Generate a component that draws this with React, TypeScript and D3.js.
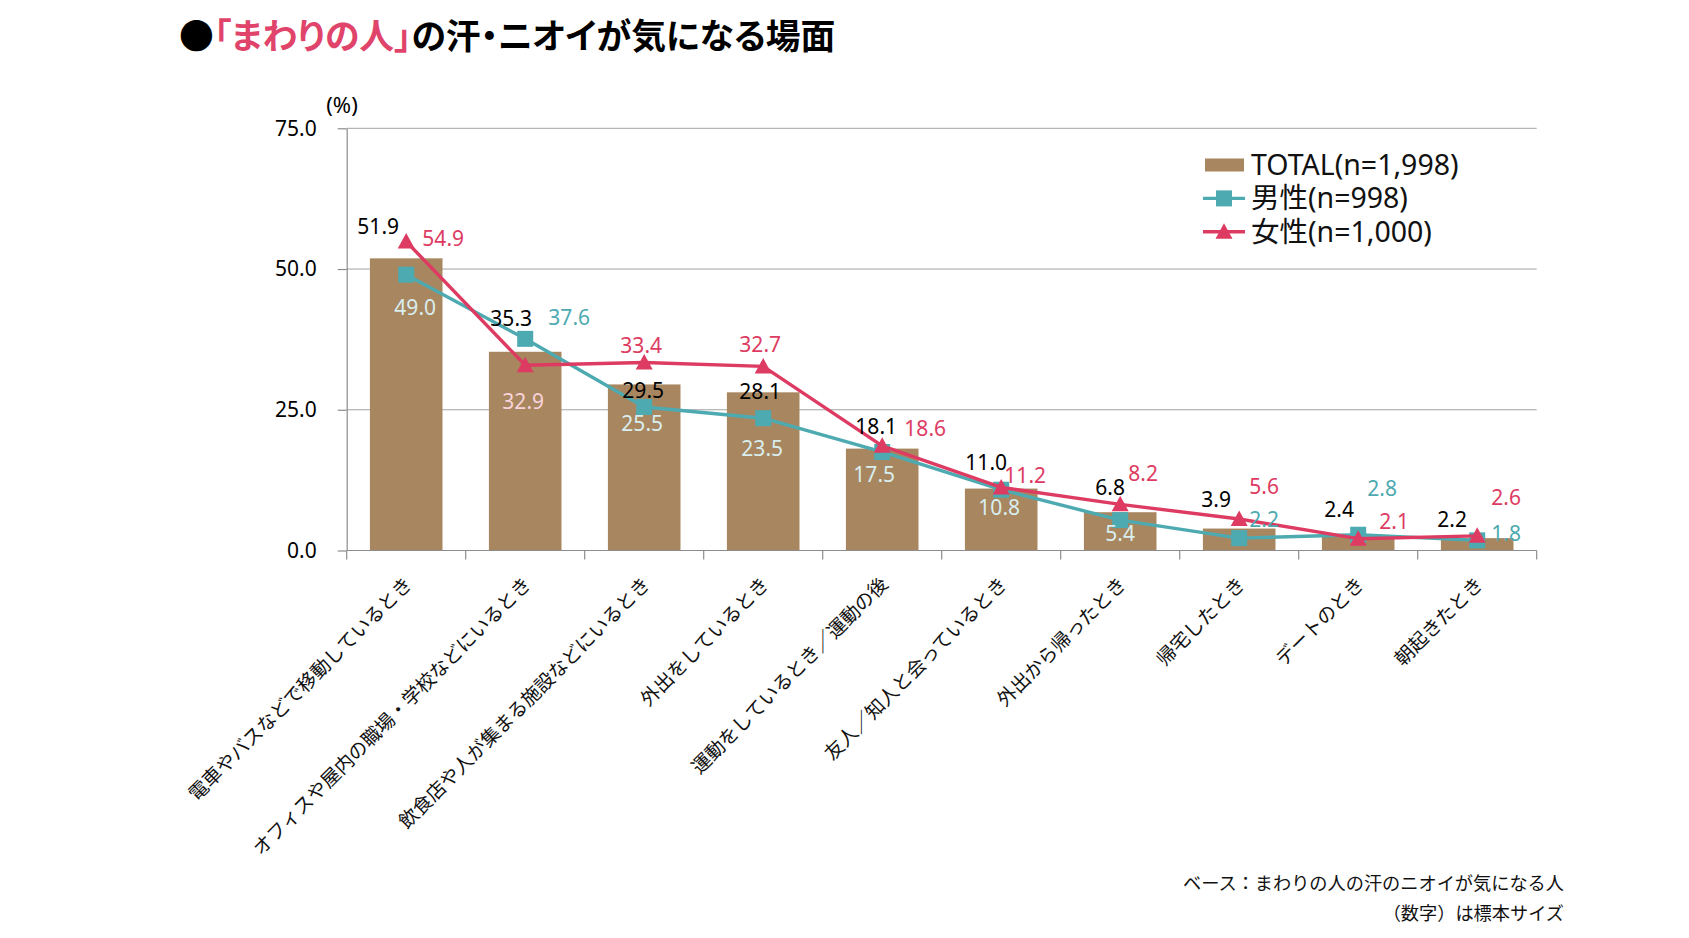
import React, { useRef, useEffect } from "react";
import * as d3 from "d3";

const categories = [
  "電車やバスなどで移動しているとき",
  "オフィスや屋内の職場・学校などにいるとき",
  "飲食店や人が集まる施設などにいるとき",
  "外出をしているとき",
  "運動をしているとき／運動の後",
  "友人／知人と会っているとき",
  "外出から帰ったとき",
  "帰宅したとき",
  "デートのとき",
  "朝起きたとき",
];
const totalValues = [51.9, 35.3, 29.5, 28.1, 18.1, 11.0, 6.8, 3.9, 2.4, 2.2];
const maleValues = [49.0, 37.6, 25.5, 23.5, 17.5, 10.8, 5.4, 2.2, 2.8, 1.8];
const femaleValues = [54.9, 32.9, 33.4, 32.7, 18.6, 11.2, 8.2, 5.6, 2.1, 2.6];
const yTicks = [0, 25, 50, 75];
const legendLabels = ["TOTAL(n=1,998)", "男性(n=998)", "女性(n=1,000)"];

// nudges [dx, dy] for the value labels, relative to the point / bar top
const totalNudge = [[-28, -32], [-14, -33], [-1, 6], [-3, -1], [-6, -22], [-15, -26], [-10, -25], [-23, -29], [-19, -27], [-25, -18]];
const maleNudge = [[9, 33], [44, -21], [-2, 17], [-1, 30], [-8, 23], [-2, 18], [0, 14], [25, -18], [24, -46], [29, -7]];
const femaleNudge = [[37, -3], [-2, 36], [-3, -17], [-3, -22], [43, -17], [24, -12], [23, -31], [25, -32], [36, -17], [29, -38]];

const BAR = "#a8865f";
const TEAL = "#4eaab1";
const RED = "#dd3b62";
const TEAL_LIGHT = "#d9eeee";
const RED_LIGHT = "#f8d3db";
const FONT = "'Noto Sans', 'Noto Sans CJK JP', sans-serif";
const JP = "'Noto Sans CJK JP', sans-serif";

const App: React.FC = () => {
  const ref = useRef<SVGSVGElement>(null);

  useEffect(() => {
    if (!ref.current) return;
    const svg = d3.select(ref.current);
    svg.selectAll("*").remove();

    const x = d3
      .scaleBand<string>()
      .domain(categories)
      .range([346.7, 1536.7])
      .paddingInner(0.39)
      .paddingOuter(0.195);
    const y = d3.scaleLinear().domain([0, 75]).range([550.5, 128.3]);
    const [x0, x1] = x.range();
    const cx = (i: number) => (x(categories[i]) ?? 0) + x.bandwidth() / 2;

    // title
    const title = svg
      .append("text")
      .attr("x", 179)
      .attr("y", 49)
      .attr("font-family", JP)
      .attr("font-weight", 700)
      .attr("font-size", 34.8)
      .style("font-feature-settings", "'palt'");
    title.append("tspan").attr("fill", "#000").text("●");
    title.append("tspan").attr("fill", "#e0446a").text("「まわりの人」");
    title.append("tspan").attr("fill", "#000").text("の汗・ニオイが気になる場面");

    // gridlines
    svg
      .append("g")
      .selectAll("line")
      .data(yTicks.filter((t) => t > 0))
      .join("line")
      .attr("x1", x0)
      .attr("x2", x1)
      .attr("y1", (d) => y(d))
      .attr("y2", (d) => y(d))
      .attr("stroke", "#a3a3a3")
      .attr("stroke-width", 1);

    // y axis
    const yAxis = svg
      .append("g")
      .attr("transform", `translate(${x0},0)`)
      .call(
        d3
          .axisLeft(y)
          .tickValues(yTicks)
          .tickSize(9)
          .tickSizeOuter(0)
          .tickPadding(21)
          .tickFormat(d3.format(".1f"))
      );
    yAxis.select(".domain").attr("stroke", "#8c8c8c").attr("stroke-width", 1.2);
    yAxis.selectAll(".tick line").attr("stroke", "#8c8c8c").attr("stroke-width", 1.2);
    yAxis
      .selectAll(".tick text")
      .attr("font-family", FONT)
      .attr("font-size", 21)
      .attr("fill", "#000");

    svg
      .append("text")
      .attr("x", 342)
      .attr("y", 105)
      .attr("dy", "0.35em")
      .attr("text-anchor", "middle")
      .attr("font-family", FONT)
      .attr("font-size", 22)
      .text("(%)");

    // bars
    svg
      .append("g")
      .selectAll("rect")
      .data(totalValues)
      .join("rect")
      .attr("x", (_, i) => x(categories[i]) ?? 0)
      .attr("y", (d) => y(d))
      .attr("width", x.bandwidth())
      .attr("height", (d) => y(0) - y(d))
      .attr("fill", BAR);

    // x axis with ticks on the band edges
    const gap = x.step() - x.bandwidth();
    const edges = categories.map((c) => (x(c) ?? 0) - gap / 2).concat([x1]);
    const xAxis = svg.append("g").attr("stroke", "#8c8c8c").attr("stroke-width", 1.2);
    xAxis.append("line").attr("x1", x0).attr("x2", x1).attr("y1", y(0)).attr("y2", y(0));
    xAxis
      .selectAll("line.tick")
      .data(edges)
      .join("line")
      .attr("class", "tick")
      .attr("x1", (d) => d)
      .attr("x2", (d) => d)
      .attr("y1", y(0))
      .attr("y2", y(0) + 9);

    // category labels
    svg
      .append("g")
      .selectAll("text")
      .data(categories)
      .join("text")
      .attr("transform", (_, i) => `translate(${cx(i) + 7},${y(0) + 35}) rotate(-45)`)
      .attr("text-anchor", "end")
      .attr("font-family", JP)
      .attr("font-size", 19.2)
      .attr("fill", "#111")
      .text((d) => d);

    const line = d3
      .line<number>()
      .x((_, i) => cx(i))
      .y((d) => y(d));

    // male series
    svg
      .append("path")
      .datum(maleValues)
      .attr("d", line)
      .attr("fill", "none")
      .attr("stroke", TEAL)
      .attr("stroke-width", 3.4)
      .attr("stroke-linejoin", "round");
    svg
      .append("g")
      .selectAll("rect")
      .data(maleValues)
      .join("rect")
      .attr("x", (_, i) => cx(i) - 8)
      .attr("y", (d) => y(d) - 8)
      .attr("width", 16)
      .attr("height", 16)
      .attr("fill", TEAL);

    // female series
    const tri = "M0,-8.5L8.5,7L-8.5,7Z";
    svg
      .append("path")
      .datum(femaleValues)
      .attr("d", line)
      .attr("fill", "none")
      .attr("stroke", RED)
      .attr("stroke-width", 3.4)
      .attr("stroke-linejoin", "round");
    svg
      .append("g")
      .selectAll("path")
      .data(femaleValues)
      .join("path")
      .attr("d", tri)
      .attr("transform", (d, i) => `translate(${cx(i)},${y(d)})`)
      .attr("fill", RED);

    // value labels
    const insideBar = (lx: number, ly: number, i: number) => {
      const left = x(categories[i]) ?? 0;
      return lx > left && lx < left + x.bandwidth() && ly > y(totalValues[i]) + 6;
    };
    const labels = svg
      .append("g")
      .attr("font-family", FONT)
      .attr("font-size", 21)
      .attr("text-anchor", "middle");
    const addLabels = (
      values: number[],
      nudge: number[][],
      color: string,
      light: string | null
    ) => {
      labels
        .append("g")
        .selectAll("text")
        .data(values)
        .join("text")
        .attr("x", (_, i) => cx(i) + nudge[i][0])
        .attr("y", (d, i) => y(d) + nudge[i][1])
        .attr("dy", "0.35em")
        .attr("fill", (d, i) =>
          light && insideBar(cx(i) + nudge[i][0], y(d) + nudge[i][1], i) ? light : color
        )
        .text((d) => d.toFixed(1));
    };
    addLabels(totalValues, totalNudge, "#000", null);
    addLabels(maleValues, maleNudge, TEAL, TEAL_LIGHT);
    addLabels(femaleValues, femaleNudge, RED, RED_LIGHT);

    // legend
    const legend = svg.append("g").attr("transform", "translate(1205,165)");
    const rowH = 33.4;
    legend.append("rect").attr("x", 0).attr("y", -6.5).attr("width", 39).attr("height", 13).attr("fill", BAR);
    legend
      .append("line")
      .attr("x1", -2)
      .attr("x2", 40)
      .attr("y1", rowH)
      .attr("y2", rowH)
      .attr("stroke", TEAL)
      .attr("stroke-width", 3.4);
    legend.append("rect").attr("x", 11).attr("y", rowH - 8).attr("width", 16).attr("height", 16).attr("fill", TEAL);
    legend
      .append("line")
      .attr("x1", -2)
      .attr("x2", 40)
      .attr("y1", rowH * 2)
      .attr("y2", rowH * 2)
      .attr("stroke", RED)
      .attr("stroke-width", 3.4);
    legend.append("path").attr("d", tri).attr("transform", `translate(19,${rowH * 2})`).attr("fill", RED);
    legend
      .selectAll("text")
      .data(legendLabels)
      .join("text")
      .attr("x", 46)
      .attr("y", (_, i) => i * rowH)
      .attr("dy", "0.35em")
      .attr("font-family", FONT)
      .attr("font-size", 28.5)
      .attr("fill", "#111")
      .text((d) => d);

    // footnote
    const foot = svg
      .append("text")
      .attr("text-anchor", "end")
      .attr("font-family", JP)
      .attr("font-size", 18.2)
      .attr("fill", "#111");
    foot.append("tspan").attr("x", 1564).attr("y", 890).text("ベース：まわりの人の汗のニオイが気になる人");
    foot.append("tspan").attr("x", 1564).attr("y", 920).text("（数字）は標本サイズ");
  }, []);

  return (
    <svg
      ref={ref}
      width={1689}
      height={938}
      style={{ position: "absolute", left: 0, top: 0, background: "#fff" }}
    />
  );
};

export default App;
